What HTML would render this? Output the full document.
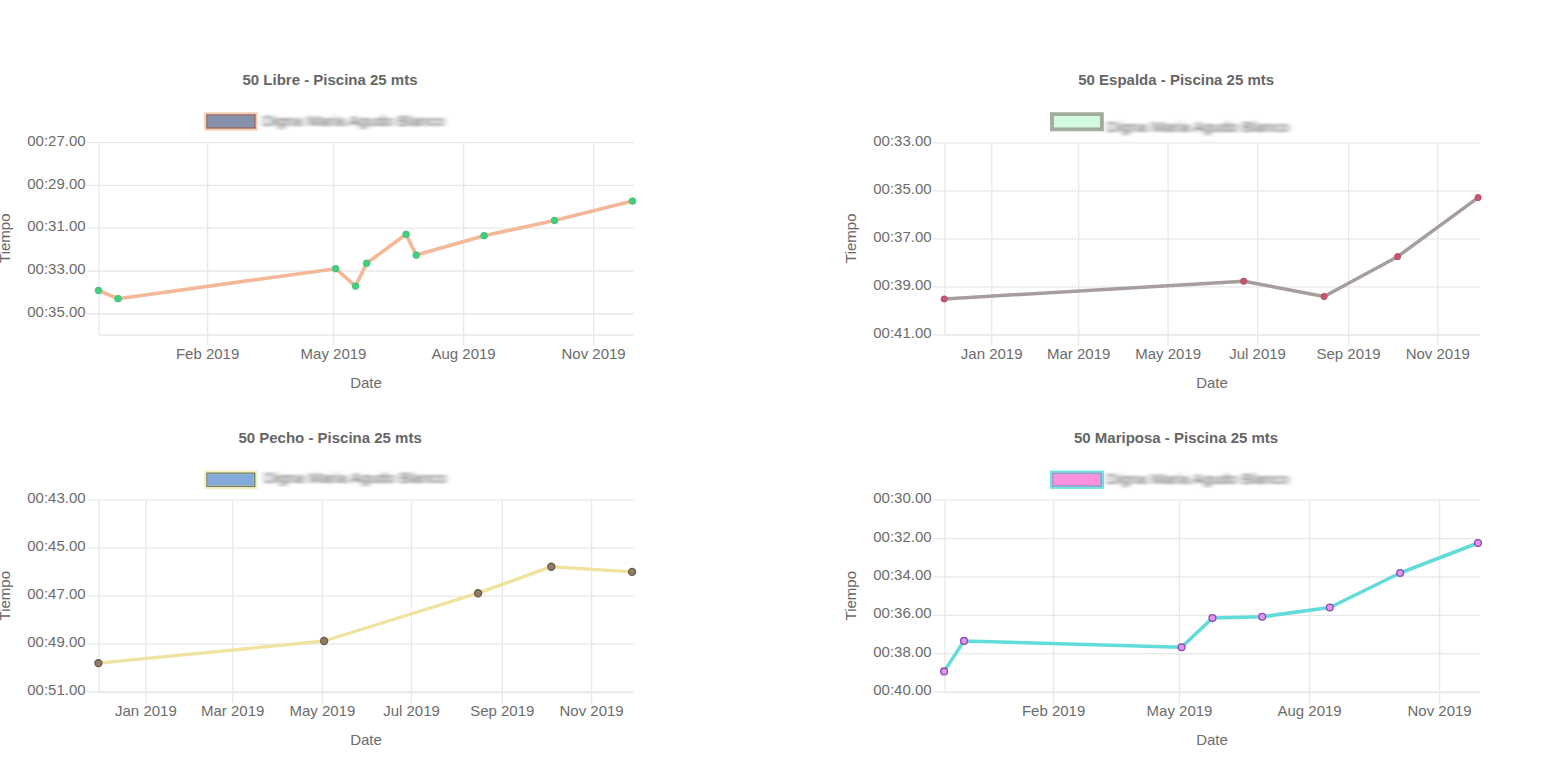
<!DOCTYPE html>
<html><head><meta charset="utf-8"><title>Tiempos</title>
<style>
html,body{margin:0;padding:0;background:#fff;}
body{width:1561px;height:767px;overflow:hidden;font-family:'Liberation Sans', sans-serif;}
svg{display:block;font-family:'Liberation Sans', sans-serif;}
</style></head>
<body>
<svg width="1561" height="767" viewBox="0 0 1561 767">
<defs><filter id="blur" x="-10%" y="-60%" width="120%" height="220%"><feGaussianBlur stdDeviation="3.2 1.15"/></filter></defs>
<rect width="1561" height="767" fill="#fff"/>
<g transform="translate(0,0)"><g stroke="#e8e8e8" stroke-width="1.3" fill="none"><line x1="86.5" y1="142.7" x2="633.5" y2="142.7"/><line x1="86.5" y1="185.46" x2="633.5" y2="185.46"/><line x1="86.5" y1="228.22" x2="633.5" y2="228.22"/><line x1="86.5" y1="270.98" x2="633.5" y2="270.98"/><line x1="86.5" y1="313.74" x2="633.5" y2="313.74"/><line x1="99" y1="335" x2="633.5" y2="335"/><line x1="99" y1="142.7" x2="99" y2="335"/><line x1="207.6" y1="142.7" x2="207.6" y2="345.5"/><line x1="333.5" y1="142.7" x2="333.5" y2="345.5"/><line x1="463.6" y1="142.7" x2="463.6" y2="345.5"/><line x1="593.6" y1="142.7" x2="593.6" y2="345.5"/></g><g fill="#6c6c6c" font-size="15" text-anchor="end"><text x="85.6" y="145.8">00:27.00</text><text x="85.6" y="188.56">00:29.00</text><text x="85.6" y="231.32">00:31.00</text><text x="85.6" y="274.08">00:33.00</text><text x="85.6" y="316.84">00:35.00</text></g><g fill="#6c6c6c" font-size="15" text-anchor="middle"><text x="207.6" y="358.6">Feb 2019</text><text x="333.5" y="358.6">May 2019</text><text x="463.6" y="358.6">Aug 2019</text><text x="593.6" y="358.6">Nov 2019</text><text x="366" y="387.8">Date</text></g><text fill="#666" font-size="15" text-anchor="middle" transform="translate(9.9,238.2) rotate(-90)">Tiempo</text><text fill="#666" font-size="15" font-weight="bold" text-anchor="middle" x="330" y="85">50 Libre - Piscina 25 mts</text><rect x="206.07" y="114.08" width="49.75" height="14.75" fill="#8590ab" stroke="#f8cfb4" stroke-width="3.75"/><rect x="207.01" y="115.01" width="47.88" height="12.87" fill="none" stroke="#7d6064" stroke-width="1.4"/><text x="262.5" y="126.3" fill="#555" font-size="15" filter="url(#blur)" textLength="182" lengthAdjust="spacingAndGlyphs">Digna Maria Agudo Blanco</text><polyline points="98.5,290.5 118,298.7 335.6,268.7 355.5,286.1 366.6,263.3 406.1,234.3 416.2,255.1 484.1,235.7 554.5,220.5 632.5,201.1" fill="none" stroke="#f3b898" stroke-width="3.6" stroke-linejoin="round" stroke-linecap="round"/><circle cx="98.5" cy="290.5" r="3.4" fill="#3ed07e" stroke="#52bb7a" stroke-width="0.8"/><circle cx="118" cy="298.7" r="3.4" fill="#3ed07e" stroke="#52bb7a" stroke-width="0.8"/><circle cx="335.6" cy="268.7" r="3.4" fill="#3ed07e" stroke="#52bb7a" stroke-width="0.8"/><circle cx="355.5" cy="286.1" r="3.4" fill="#3ed07e" stroke="#52bb7a" stroke-width="0.8"/><circle cx="366.6" cy="263.3" r="3.4" fill="#3ed07e" stroke="#52bb7a" stroke-width="0.8"/><circle cx="406.1" cy="234.3" r="3.4" fill="#3ed07e" stroke="#52bb7a" stroke-width="0.8"/><circle cx="416.2" cy="255.1" r="3.4" fill="#3ed07e" stroke="#52bb7a" stroke-width="0.8"/><circle cx="484.1" cy="235.7" r="3.4" fill="#3ed07e" stroke="#52bb7a" stroke-width="0.8"/><circle cx="554.5" cy="220.5" r="3.4" fill="#3ed07e" stroke="#52bb7a" stroke-width="0.8"/><circle cx="632.5" cy="201.1" r="3.4" fill="#3ed07e" stroke="#52bb7a" stroke-width="0.8"/></g><g transform="translate(846,0)"><g stroke="#e8e8e8" stroke-width="1.3" fill="none"><line x1="86.5" y1="142.8" x2="633.5" y2="142.8"/><line x1="86.5" y1="190.8" x2="633.5" y2="190.8"/><line x1="86.5" y1="238.8" x2="633.5" y2="238.8"/><line x1="86.5" y1="286.8" x2="633.5" y2="286.8"/><line x1="86.5" y1="334.8" x2="633.5" y2="334.8"/><line x1="99" y1="335" x2="633.5" y2="335"/><line x1="99" y1="142.7" x2="99" y2="335"/><line x1="145.7" y1="142.7" x2="145.7" y2="345.5"/><line x1="232.7" y1="142.7" x2="232.7" y2="345.5"/><line x1="322.1" y1="142.7" x2="322.1" y2="345.5"/><line x1="411.6" y1="142.7" x2="411.6" y2="345.5"/><line x1="502.6" y1="142.7" x2="502.6" y2="345.5"/><line x1="591.8" y1="142.7" x2="591.8" y2="345.5"/></g><g fill="#6c6c6c" font-size="15" text-anchor="end"><text x="85.6" y="145.9">00:33.00</text><text x="85.6" y="193.9">00:35.00</text><text x="85.6" y="241.9">00:37.00</text><text x="85.6" y="289.9">00:39.00</text><text x="85.6" y="337.9">00:41.00</text></g><g fill="#6c6c6c" font-size="15" text-anchor="middle"><text x="145.7" y="358.6">Jan 2019</text><text x="232.7" y="358.6">Mar 2019</text><text x="322.1" y="358.6">May 2019</text><text x="411.6" y="358.6">Jul 2019</text><text x="502.6" y="358.6">Sep 2019</text><text x="591.8" y="358.6">Nov 2019</text><text x="366" y="387.8">Date</text></g><text fill="#666" font-size="15" text-anchor="middle" transform="translate(9.9,238.2) rotate(-90)">Tiempo</text><text fill="#666" font-size="15" font-weight="bold" text-anchor="middle" x="330.2" y="85">50 Espalda - Piscina 25 mts</text><rect x="205.88" y="114.08" width="50.05" height="15.35" fill="#d2fadf" stroke="#a7ad9f" stroke-width="3.75"/><rect x="206.81" y="115.01" width="48.17" height="13.48" fill="none" stroke="#a0aa98" stroke-width="1.4"/><text x="261" y="131.8" fill="#555" font-size="15" filter="url(#blur)" textLength="182" lengthAdjust="spacingAndGlyphs">Digna Maria Agudo Blanco</text><polyline points="98.2,299 397.7,281.2 478.1,296.5 551.5,256.7 632.1,197.6" fill="none" stroke="#a69e9c" stroke-width="3.5" stroke-linejoin="round" stroke-linecap="round"/><circle cx="98.2" cy="299" r="3.1" fill="#c85470" stroke="#b84d66" stroke-width="1.0"/><circle cx="397.7" cy="281.2" r="3.1" fill="#c85470" stroke="#b84d66" stroke-width="1.0"/><circle cx="478.1" cy="296.5" r="3.1" fill="#c85470" stroke="#b84d66" stroke-width="1.0"/><circle cx="551.5" cy="256.7" r="3.1" fill="#c85470" stroke="#b84d66" stroke-width="1.0"/><circle cx="632.1" cy="197.6" r="3.1" fill="#c85470" stroke="#b84d66" stroke-width="1.0"/></g><g transform="translate(0,357.5)"><g stroke="#e8e8e8" stroke-width="1.3" fill="none"><line x1="86.5" y1="142.7" x2="633.5" y2="142.7"/><line x1="86.5" y1="190.65" x2="633.5" y2="190.65"/><line x1="86.5" y1="238.6" x2="633.5" y2="238.6"/><line x1="86.5" y1="286.55" x2="633.5" y2="286.55"/><line x1="86.5" y1="334.5" x2="633.5" y2="334.5"/><line x1="99" y1="335" x2="633.5" y2="335"/><line x1="99" y1="142.7" x2="99" y2="335"/><line x1="145.9" y1="142.7" x2="145.9" y2="345.5"/><line x1="232.7" y1="142.7" x2="232.7" y2="345.5"/><line x1="322.4" y1="142.7" x2="322.4" y2="345.5"/><line x1="411.5" y1="142.7" x2="411.5" y2="345.5"/><line x1="502.3" y1="142.7" x2="502.3" y2="345.5"/><line x1="591.6" y1="142.7" x2="591.6" y2="345.5"/></g><g fill="#6c6c6c" font-size="15" text-anchor="end"><text x="85.6" y="145.8">00:43.00</text><text x="85.6" y="193.75">00:45.00</text><text x="85.6" y="241.7">00:47.00</text><text x="85.6" y="289.65">00:49.00</text><text x="85.6" y="337.6">00:51.00</text></g><g fill="#6c6c6c" font-size="15" text-anchor="middle"><text x="145.9" y="358.6">Jan 2019</text><text x="232.7" y="358.6">Mar 2019</text><text x="322.4" y="358.6">May 2019</text><text x="411.5" y="358.6">Jul 2019</text><text x="502.3" y="358.6">Sep 2019</text><text x="591.6" y="358.6">Nov 2019</text><text x="366" y="387.8">Date</text></g><text fill="#666" font-size="15" text-anchor="middle" transform="translate(9.9,238.2) rotate(-90)">Tiempo</text><text fill="#666" font-size="15" font-weight="bold" text-anchor="middle" x="330.1" y="85">50 Pecho - Piscina 25 mts</text><rect x="206.07" y="114.77" width="49.55" height="15.05" fill="#82aadb" stroke="#f4efc2" stroke-width="3.75"/><rect x="207.01" y="115.71" width="47.68" height="13.18" fill="none" stroke="#74806a" stroke-width="1.4"/><text x="264.2" y="125.8" fill="#555" font-size="15" filter="url(#blur)" textLength="182" lengthAdjust="spacingAndGlyphs">Digna Maria Agudo Blanco</text><polyline points="98.4,305.6 324.1,283.5 478.1,235.7 551.3,209.2 632.1,214.4" fill="none" stroke="#f0e3a0" stroke-width="3.4" stroke-linejoin="round" stroke-linecap="round"/><circle cx="98.4" cy="305.6" r="3.5" fill="#8e7e6c" stroke="#6a5e44" stroke-width="1.4"/><circle cx="324.1" cy="283.5" r="3.5" fill="#8e7e6c" stroke="#6a5e44" stroke-width="1.4"/><circle cx="478.1" cy="235.7" r="3.5" fill="#8e7e6c" stroke="#6a5e44" stroke-width="1.4"/><circle cx="551.3" cy="209.2" r="3.5" fill="#8e7e6c" stroke="#6a5e44" stroke-width="1.4"/><circle cx="632.1" cy="214.4" r="3.5" fill="#8e7e6c" stroke="#6a5e44" stroke-width="1.4"/></g><g transform="translate(846,357.5)"><g stroke="#e8e8e8" stroke-width="1.3" fill="none"><line x1="86.5" y1="142.7" x2="633.5" y2="142.7"/><line x1="86.5" y1="181.08" x2="633.5" y2="181.08"/><line x1="86.5" y1="219.46" x2="633.5" y2="219.46"/><line x1="86.5" y1="257.84" x2="633.5" y2="257.84"/><line x1="86.5" y1="296.22" x2="633.5" y2="296.22"/><line x1="86.5" y1="334.6" x2="633.5" y2="334.6"/><line x1="99" y1="335" x2="633.5" y2="335"/><line x1="99" y1="142.7" x2="99" y2="335"/><line x1="207.6" y1="142.7" x2="207.6" y2="345.5"/><line x1="333.5" y1="142.7" x2="333.5" y2="345.5"/><line x1="463.6" y1="142.7" x2="463.6" y2="345.5"/><line x1="593.6" y1="142.7" x2="593.6" y2="345.5"/></g><g fill="#6c6c6c" font-size="15" text-anchor="end"><text x="85.6" y="145.8">00:30.00</text><text x="85.6" y="184.18">00:32.00</text><text x="85.6" y="222.56">00:34.00</text><text x="85.6" y="260.94">00:36.00</text><text x="85.6" y="299.32">00:38.00</text><text x="85.6" y="337.7">00:40.00</text></g><g fill="#6c6c6c" font-size="15" text-anchor="middle"><text x="207.6" y="358.6">Feb 2019</text><text x="333.5" y="358.6">May 2019</text><text x="463.6" y="358.6">Aug 2019</text><text x="593.6" y="358.6">Nov 2019</text><text x="366" y="387.8">Date</text></g><text fill="#666" font-size="15" text-anchor="middle" transform="translate(9.9,238.2) rotate(-90)">Tiempo</text><text fill="#666" font-size="15" font-weight="bold" text-anchor="middle" x="330.1" y="85">50 Mariposa - Piscina 25 mts</text><rect x="205.88" y="114.98" width="50.25" height="14.55" fill="#fc90dc" stroke="#72e2e2" stroke-width="3.75"/><rect x="206.81" y="115.91" width="48.38" height="12.67" fill="none" stroke="#b08ccc" stroke-width="1.4"/><text x="260.6" y="126.5" fill="#555" font-size="15" filter="url(#blur)" textLength="182" lengthAdjust="spacingAndGlyphs">Digna Maria Agudo Blanco</text><polyline points="98.1,313.9 118,283.4 335.6,289.7 366.4,260.6 416.2,259.2 483.8,250 554.1,215.5 632,185.5" fill="none" stroke="#62dcd8" stroke-width="3.5" stroke-linejoin="round" stroke-linecap="round"/><circle cx="98.1" cy="313.9" r="3.4" fill="#e890f0" stroke="#8050b0" stroke-width="1.3"/><circle cx="118" cy="283.4" r="3.4" fill="#e890f0" stroke="#8050b0" stroke-width="1.3"/><circle cx="335.6" cy="289.7" r="3.4" fill="#e890f0" stroke="#8050b0" stroke-width="1.3"/><circle cx="366.4" cy="260.6" r="3.4" fill="#e890f0" stroke="#8050b0" stroke-width="1.3"/><circle cx="416.2" cy="259.2" r="3.4" fill="#e890f0" stroke="#8050b0" stroke-width="1.3"/><circle cx="483.8" cy="250" r="3.4" fill="#e890f0" stroke="#8050b0" stroke-width="1.3"/><circle cx="554.1" cy="215.5" r="3.4" fill="#e890f0" stroke="#8050b0" stroke-width="1.3"/><circle cx="632" cy="185.5" r="3.4" fill="#e890f0" stroke="#8050b0" stroke-width="1.3"/></g>
</svg>
</body></html>
